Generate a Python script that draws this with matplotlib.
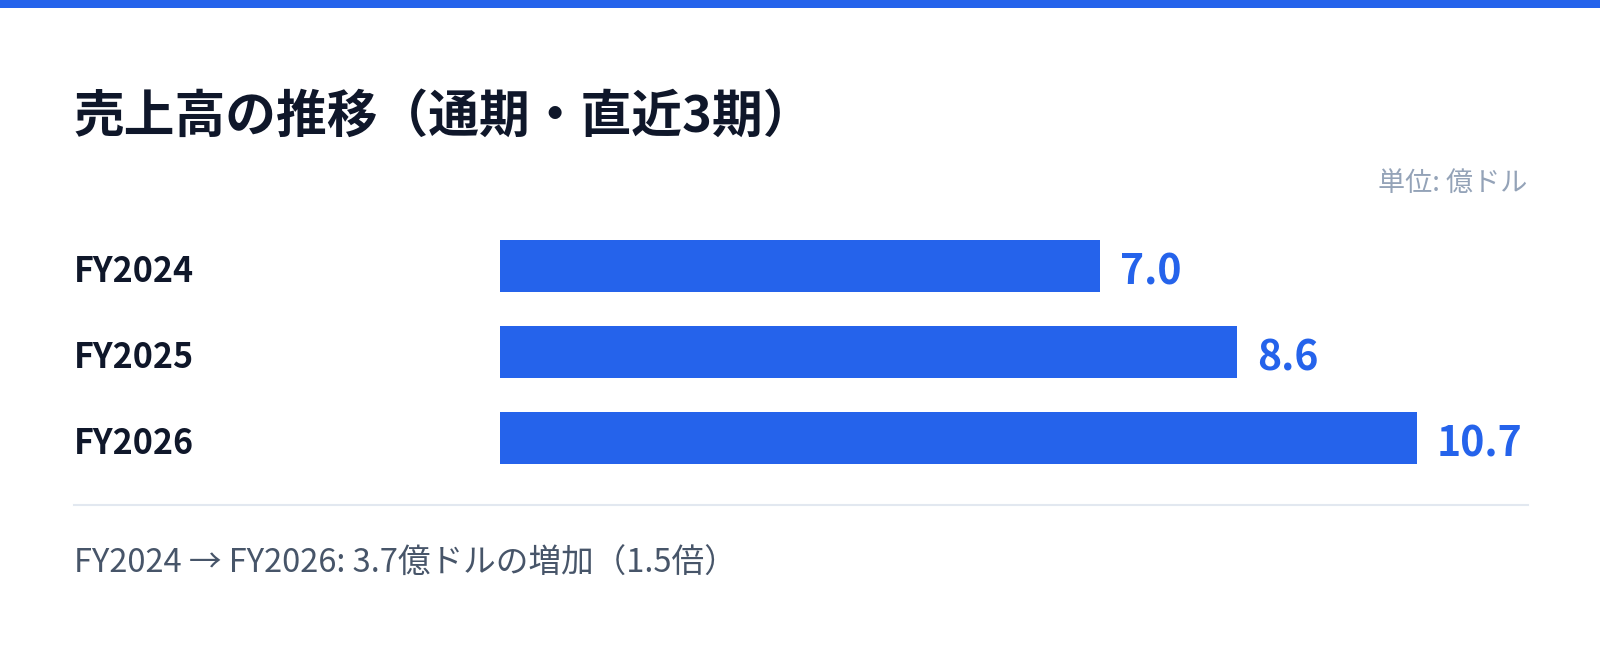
import matplotlib.pyplot as plt
from matplotlib.lines import Line2D
from matplotlib.patches import Rectangle
from matplotlib.transforms import blended_transform_factory

plt.rcParams['font.family'] = ['Noto Sans CJK JP', 'DejaVu Sans']

years = ['FY2024', 'FY2025', 'FY2026']
revenue = [7.0, 8.6, 10.7]
title = '売上高の推移（通期・直近3期）'
unit = '単位: 億ドル'

BLUE = '#2563EB'
DARK = '#0F172A'

W, H = 1600, 647
fig = plt.figure(figsize=(W / 100, H / 100), dpi=100)
fig.patch.set_facecolor('white')

# top accent stripe
fig.add_artist(Rectangle((0, 1 - 8 / H), 1, 8 / H, transform=fig.transFigure,
                         color=BLUE, lw=0))

fig.text(74 / W, 1 - 132 / H, title, fontsize=36.5, fontweight='bold',
         color=DARK, ha='left', va='baseline')
fig.text(1527 / W, 1 - 191 / H, unit, fontsize=19.5, color='#94A3B8',
         ha='right', va='baseline')

# bars
ax = fig.add_axes([500 / W, 1 - 481 / H, 1028 / W, 258 / H])
pos = list(range(len(years)))
ax.barh(pos, revenue, height=0.605, color=BLUE)
ax.set_xlim(0, 12)
ax.set_ylim(2.5, -0.5)
ax.axis('off')

tr = blended_transform_factory(fig.transFigure, ax.transData)
for p, name, v in zip(pos, years, revenue):
    ax.annotate(name, xy=(74 / W, p), xycoords=tr, xytext=(0, -11.5),
                textcoords='offset points', fontsize=24.5, fontweight='bold',
                color=DARK, ha='left', va='baseline')
    ax.annotate(f'{v:.1f}', xy=(v, p), xytext=(14.5, -13),
                textcoords='offset points', fontsize=29.5, fontweight='bold',
                color=BLUE, ha='left', va='baseline')

# separator and summary
fig.add_artist(Line2D([74 / W, 1528 / W], [1 - 505 / H, 1 - 505 / H],
                      transform=fig.transFigure, color='#E2E8F0', lw=1.5))

diff = revenue[-1] - revenue[0]
ratio = revenue[-1] / revenue[0]
summary = f'{years[0]} → {years[-1]}: {diff:.1f}億ドルの増加（{ratio:.1f}倍）'
fig.text(74 / W, 1 - 573 / H, summary, fontsize=23.5, color='#475569',
         ha='left', va='baseline')

fig.savefig('out.png', dpi=100, facecolor='white')
